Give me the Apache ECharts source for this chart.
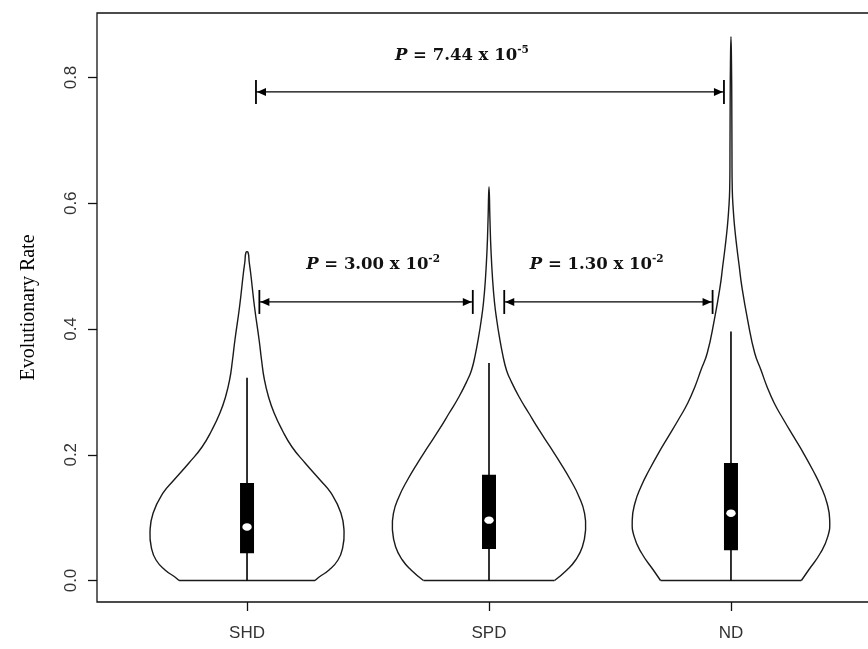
<!DOCTYPE html>
<html>
<head>
<meta charset="utf-8">
<title>Evolutionary Rate</title>
<script src="https://cdn.jsdelivr.net/npm/echarts@6/dist/echarts.min.js"></script>
<style>
html, body { margin: 0; padding: 0; background: #fff; }
#chart { width: 868px; height: 649px; }
</style>
</head>
<body>
<div id="chart"></div>
<script>
var categories = ['SHD', 'SPD', 'ND'];
var yTicks = [0, 0.2, 0.4, 0.6, 0.8];

// violin outlines: rate levels and half widths (in category units)
var shdLevels = [0, 0.0056, 0.0167, 0.0326, 0.0517, 0.0771, 0.1074, 0.1392, 0.1598, 0.1869, 0.2123, 0.2394, 0.2664, 0.2918, 0.3189, 0.3507, 0.3825, 0.4350, 0.4891, 0.5066, 0.5220];
var shdWidths = [0.281, 0.298, 0.339, 0.376, 0.395, 0.401, 0.388, 0.347, 0.302, 0.240, 0.186, 0.145, 0.112, 0.089, 0.072, 0.060, 0.050, 0.031, 0.015, 0.009, 0.004];
var spdLevels = [0, 0.0167, 0.0326, 0.0538, 0.0803, 0.1069, 0.1333, 0.1598, 0.1864, 0.2128, 0.2394, 0.2660, 0.2923, 0.3189, 0.3348, 0.3586, 0.3873, 0.4143, 0.4413, 0.4779, 0.5272, 0.5734, 0.6263];
var spdWidths = [0.271, 0.322, 0.358, 0.386, 0.399, 0.395, 0.372, 0.337, 0.296, 0.252, 0.207, 0.165, 0.124, 0.089, 0.072, 0.057, 0.043, 0.032, 0.023, 0.015, 0.008, 0.004, 0];
var ndLevels = [0, 0.0167, 0.0433, 0.0697, 0.0962, 0.1228, 0.1492, 0.1757, 0.2023, 0.2288, 0.2553, 0.2819, 0.3083, 0.3348, 0.3618, 0.4143, 0.4673, 0.5002, 0.5308, 0.5626, 0.5892, 0.6211, 0.6847, 0.7642, 0.8235, 0.8649];
var ndWidths = [0.291, 0.321, 0.369, 0.400, 0.408, 0.397, 0.372, 0.338, 0.300, 0.259, 0.218, 0.179, 0.149, 0.124, 0.098, 0.069, 0.045, 0.034, 0.024, 0.015, 0.0095, 0.0054, 0.0041, 0.0033, 0.0021, 0];

// box plot inside each violin
var boxQ1 = [0.0435, 0.050, 0.048];
var boxQ3 = [0.155, 0.168, 0.187];
var medians = [0.085, 0.096, 0.107];
var whiskerTop = [0.3225, 0.346, 0.396];

// p value brackets
var pLabels = ['7.44 x 10', '3.00 x 10', '1.30 x 10'];
var pExponents = ['-5', '-2', '-2'];
var pFrom = [1.037, 1.051, 2.063];
var pTo = [2.971, 1.933, 2.924];
var pLevel = [0.777, 0.443, 0.443];
var pTextX = [1.888, 1.521, 2.445];
var pTextY = [0.834, 0.502, 0.502];

var violinLevels = [shdLevels, spdLevels, ndLevels];
var violinWidths = [shdWidths, spdWidths, ndWidths];

function violinItem(params, api) {
	var i = params.dataIndex;
	var levels = violinLevels[i], widths = violinWidths[i];
	var pos = i + 1;
	var n = levels.length;
	var pts = [];
	for (var k = 0; k < n; k++) {
		pts.push(api.coord([pos - widths[k], levels[k]]));
	}
	// skip the tip twice if it closes to a point
	for (var k = (widths[n - 1] === 0 ? n - 2 : n - 1); k >= 0; k--) {
		pts.push(api.coord([pos + widths[k], levels[k]]));
	}
	var base = api.coord([pos, 0]);
	var top = api.coord([pos, whiskerTop[i]]);
	var q1 = api.coord([pos, boxQ1[i]]);
	var q3 = api.coord([pos, boxQ3[i]]);
	var med = api.coord([pos, medians[i]]);
	var last = pts[pts.length - 1];
	return {
		type: 'group',
		children: [
			{type: 'polyline', shape: {points: pts, smooth: 0.5}, style: {stroke: '#1a1a1a', lineWidth: 1.4, fill: null}},
			{type: 'line', shape: {x1: pts[0][0], y1: pts[0][1], x2: last[0], y2: last[1]}, style: {stroke: '#1a1a1a', lineWidth: 1.4}},
			{type: 'line', shape: {x1: base[0], y1: base[1], x2: top[0], y2: top[1]}, style: {stroke: '#000', lineWidth: 1.6}},
			{type: 'rect', shape: {x: q3[0] - 7, y: q3[1], width: 14, height: q1[1] - q3[1]}, style: {fill: '#000'}},
			{type: 'ellipse', shape: {cx: med[0], cy: med[1], rx: 4.7, ry: 3.7}, style: {fill: '#fff'}}
		]
	};
}

function pValueItem(params, api) {
	var i = params.dataIndex;
	var a = api.coord([pFrom[i], pLevel[i]]);
	var b = api.coord([pTo[i], pLevel[i]]);
	var t = api.coord([pTextX[i], pTextY[i]]);
	var h = 12, al = 10, aw = 4;
	return {
		type: 'group',
		children: [
			{type: 'line', shape: {x1: a[0], y1: a[1], x2: b[0], y2: b[1]}, style: {stroke: '#000', lineWidth: 1.3}},
			{type: 'line', shape: {x1: a[0], y1: a[1] - h, x2: a[0], y2: a[1] + h}, style: {stroke: '#000', lineWidth: 1.8}},
			{type: 'line', shape: {x1: b[0], y1: b[1] - h, x2: b[0], y2: b[1] + h}, style: {stroke: '#000', lineWidth: 1.8}},
			{type: 'polygon', shape: {points: [[a[0] + 1, a[1]], [a[0] + al, a[1] - aw], [a[0] + al, a[1] + aw]]}, style: {fill: '#000'}},
			{type: 'polygon', shape: {points: [[b[0] - 1, b[1]], [b[0] - al, b[1] - aw], [b[0] - al, b[1] + aw]]}, style: {fill: '#000'}},
			{
				type: 'text',
				x: t[0], y: t[1],
				style: {
					text: '{i|P}{b| = ' + pLabels[i] + '}{s|' + pExponents[i] + '}',
					align: 'center',
					verticalAlign: 'middle',
					rich: {
						i: {fontFamily: 'DejaVu Serif', fontStyle: 'italic', fontWeight: 'bold', fontSize: 16.5, lineHeight: 22, fill: '#111'},
						b: {fontFamily: 'DejaVu Serif', fontWeight: 'bold', fontSize: 16.5, lineHeight: 22, fill: '#111'},
						s: {fontFamily: 'DejaVu Serif', fontWeight: 'bold', fontSize: 10.5, lineHeight: 12, verticalAlign: 'top', fill: '#111'}
					}
				}
			}
		]
	};
}

var chart = echarts.init(document.getElementById('chart'));

var option = {
	animation: false,
	grid: {
		left: 97, top: 13, width: 784, height: 589,
		outerBoundsMode: 'none',
		show: true, borderColor: '#111', borderWidth: 1.3
	},
	xAxis: {
		type: 'value',
		min: 0.38, max: 3.62,
		splitLine: {show: false},
		axisLine: {show: false, onZero: false},
		axisTick: {show: true, customValues: [1, 2, 3], length: 9, lineStyle: {color: '#111', width: 1.3}},
		axisLabel: {
			customValues: [1, 2, 3],
			formatter: function (v) { return categories[Math.round(v) - 1]; },
			margin: 23, fontFamily: 'Liberation Sans', fontSize: 17, color: '#333'
		}
	},
	yAxis: {
		type: 'value',
		min: -0.0342, max: 0.9026,
		splitLine: {show: false},
		axisLine: {show: false, onZero: false},
		axisTick: {show: true, customValues: yTicks, length: 9, lineStyle: {color: '#111', width: 1.3}},
		axisLabel: {
			customValues: yTicks,
			formatter: function (v) { return v.toFixed(1); },
			rotate: 90, margin: 17, fontFamily: 'Liberation Sans', fontSize: 17, color: '#333'
		},
		name: 'Evolutionary Rate',
		nameLocation: 'middle',
		nameRotate: 90,
		nameGap: 58,
		nameTextStyle: {fontFamily: 'Liberation Serif', fontSize: 20, color: '#000'}
	},
	series: [
		{
			type: 'custom',
			renderItem: violinItem,
			data: [1, 2, 3],
			z: 2
		},
		{
			type: 'custom',
			renderItem: pValueItem,
			data: [0, 1, 2],
			z: 3
		}
	]
};

chart.setOption(option);
</script>
</body>
</html>
